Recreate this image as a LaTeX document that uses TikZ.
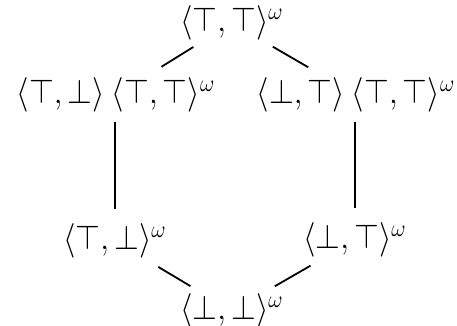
\documentclass[tikz,border=0pt]{standalone}
\usepackage{amsmath}
\usepackage{graphicx}
\begin{document}
\begin{tikzpicture}[x=1pt,y=1pt,
  elem/.style={inner sep=0pt, font=\fontsize{16.5}{19}\selectfont},
  conn/.style={line width=0.9pt}]
\newcommand{\nsq}[1]{\scalebox{0.92}[1]{$#1$}}
\useasboundingbox (0,0) rectangle (228.5,-163);
\node[elem] (top) at (116,-11.5) {\nsq{\langle\top,\top\rangle^{\omega}}};
\node[elem] (ml) at (58,-47.5) {\nsq{\langle\top,\bot\rangle\mkern4mu\langle\top,\top\rangle^{\omega}}};
\node[elem] (mr) at (178,-47.5) {\nsq{\langle\bot,\top\rangle\mkern4mu\langle\top,\top\rangle^{\omega}}};
\node[elem] (bl) at (57.5,-120.5) {\nsq{\langle\top,\bot\rangle^{\omega}}};
\node[elem] (br) at (177.5,-120) {\nsq{\langle\bot,\top\rangle^{\omega}}};
\node[elem] (bot) at (116,-155.5) {\nsq{\langle\bot,\bot\rangle^{\omega}}};
\draw[conn, shorten <=6pt, shorten >=10pt] (top) -- (ml);
\draw[conn, shorten <=6pt, shorten >=10pt] (top) -- (mr);
\draw[conn, shorten <=4.5pt, shorten >=7pt] (bl |- ml.south) -- (bl.north);
\draw[conn, shorten <=4.5pt, shorten >=7pt] (br |- mr.south) -- (br.north);
\draw[conn, shorten <=8pt, shorten >=7pt] (bl) -- (bot);
\draw[conn, shorten <=8pt, shorten >=7pt] (br) -- (bot);
\end{tikzpicture}
\end{document}
